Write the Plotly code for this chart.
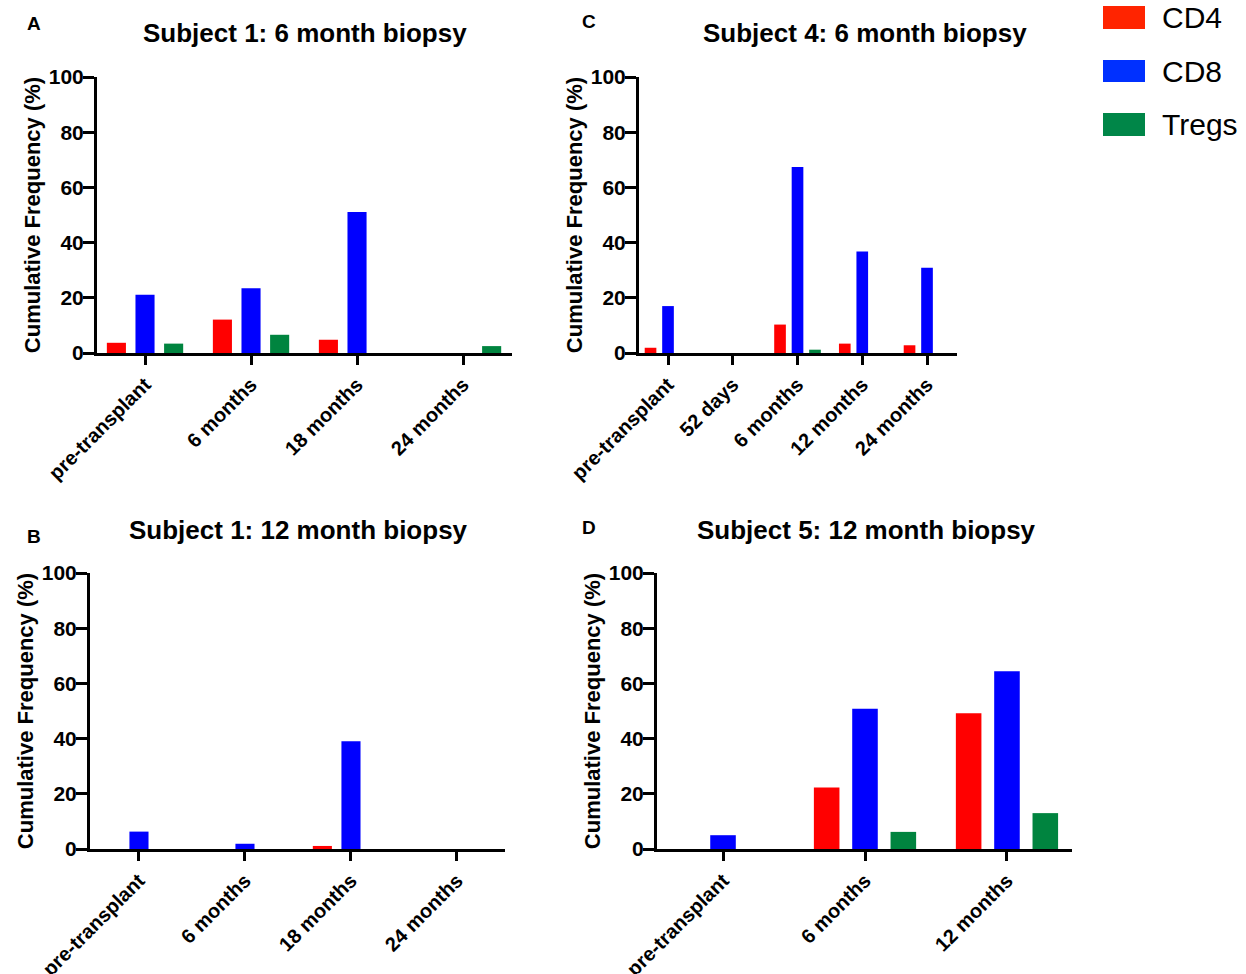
import plotly.graph_objects as go

# ---------------- data ----------------
series_names = ["CD4", "CD8", "Tregs"]

A_title = "Subject 1: 6 month biopsy"
A_cats = ["pre-transplant", "6 months", "18 months", "24 months"]
A_cd4 = [3.7, 12.1, 4.8, 0]
A_cd8 = [21.1, 23.5, 51.1, 0]
A_treg = [3.4, 6.6, 0, 2.5]

B_title = "Subject 1: 12 month biopsy"
B_cats = ["pre-transplant", "6 months", "18 months", "24 months"]
B_cd4 = [0, 0, 1.1, 0]
B_cd8 = [6.3, 1.9, 39.0, 0]
B_treg = [0, 0, 0, 0]

C_title = "Subject 4: 6 month biopsy"
C_cats = ["pre-transplant", "52 days", "6 months", "12 months", "24 months"]
C_cd4 = [1.9, 0, 10.3, 3.4, 2.8]
C_cd8 = [17.0, 0, 67.4, 36.8, 30.9]
C_treg = [0, 0, 1.2, 0, 0]

D_title = "Subject 5: 12 month biopsy"
D_cats = ["pre-transplant", "6 months", "12 months"]
D_cd4 = [0, 22.3, 49.2]
D_cd8 = [5.0, 50.8, 64.4]
D_treg = [0, 6.2, 13.0]

y_ticks = [0, 20, 40, 60, 80, 100]
y_label = "Cumulative Frequency (%)"

# ---------------- styling ----------------
W, H = 1246, 974
bar_colors = ["#FF0000", "#0000FF", "#00843F"]
legend_colors = ["#FF2400", "#0030FF", "#008648"]
FONT = "Liberation Sans, Arial, sans-serif"

def px_x(p):
    return p / W

def px_y(p):
    return 1 - p / H

panels = [
    # letter, title, cats, series, axis suffix, x-domain px, y-domain px, x-range, letter pos, title pos
    ("A", A_title, A_cats, [A_cd4, A_cd8, A_treg], "", (97, 512), (77, 353), (-0.453, 3.462), (34, 23), (305, 33)),
    ("B", B_title, B_cats, [B_cd4, B_cd8, B_treg], "2", (90, 505), (573, 849), (-0.462, 3.453), (34, 536), (298, 530)),
    ("C", C_title, C_cats, [C_cd4, C_cd8, C_treg], "3", (639, 957), (77, 353), (-0.448, 4.463), (589, 22), (865, 33)),
    ("D", D_title, D_cats, [D_cd4, D_cd8, D_treg], "4", (657, 1072), (573, 849), (-0.465, 2.458), (589, 527), (866, 530)),
]

fig = go.Figure()
annotations = []
shapes = []
layout_axes = {}

for letter, title, cats, series, suf, xd, yd, xr, lpos, tpos in panels:
    for name, vals, col in zip(series_names, series, bar_colors):
        fig.add_trace(go.Bar(
            x=cats, y=vals, name=name, marker=dict(color=col, line=dict(width=0)),
            xaxis="x" + suf, yaxis="y" + suf, showlegend=False,
        ))
    layout_axes["xaxis" + suf] = dict(
        domain=[px_x(xd[0]), px_x(xd[1])],
        anchor="y" + suf,
        type="category",
        categoryorder="array", categoryarray=cats,
        range=list(xr),
        automargin=False,
        showline=True, linewidth=3, linecolor="black",
        ticks="outside", ticklen=9, tickwidth=3, tickcolor="black",
        tickangle=-45,
        tickfont=dict(family=FONT, size=20, color="black", weight="bold"),
        showgrid=False, zeroline=False, fixedrange=True,
    )
    layout_axes["yaxis" + suf] = dict(
        domain=[px_y(yd[1]), px_y(yd[0])],
        anchor="x" + suf,
        range=[0, 100],
        tickvals=y_ticks,
        automargin=False,
        showline=True, linewidth=3, linecolor="black",
        ticks="outside", ticklen=11, tickwidth=3, tickcolor="black",
        ticklabelstandoff=-5,
        tickfont=dict(family=FONT, size=21, color="black", weight="bold"),
        title=dict(text=y_label, font=dict(family=FONT, size=22, color="black", weight="bold"), standoff=3),
        showgrid=False, zeroline=False, fixedrange=True,
    )
    annotations.append(dict(
        text=letter, x=px_x(lpos[0]), y=px_y(lpos[1]), xref="paper", yref="paper",
        xanchor="center", yanchor="middle", showarrow=False,
        font=dict(family=FONT, size=19, color="black", weight="bold"),
    ))
    annotations.append(dict(
        text=title, x=px_x(tpos[0]), y=px_y(tpos[1]), xref="paper", yref="paper",
        xanchor="center", yanchor="middle", showarrow=False,
        font=dict(family=FONT, size=26, color="black", weight="bold"),
    ))

# legend drawn as boxes + labels
leg_rows = [(6, 29), (60, 82), (113, 136)]
for name, col, (y0, y1) in zip(series_names, legend_colors, leg_rows):
    shapes.append(dict(type="rect", xref="paper", yref="paper",
                       x0=px_x(1103), x1=px_x(1145), y0=px_y(y1), y1=px_y(y0),
                       fillcolor=col, line=dict(width=0)))
    annotations.append(dict(
        text=name, x=px_x(1160), y=px_y((y0 + y1) / 2), xref="paper", yref="paper",
        xanchor="left", yanchor="middle", showarrow=False,
        font=dict(family=FONT, size=30, color="black"),
    ))

fig.update_layout(
    template="none",
    width=W, height=H,
    margin=dict(l=0, r=0, t=0, b=0, autoexpand=False),
    paper_bgcolor="white", plot_bgcolor="white",
    barmode="group", bargap=0.19, bargroupgap=0.333,
    annotations=annotations, shapes=shapes,
    showlegend=False,
    **layout_axes,
)

fig.write_html("out.html")
